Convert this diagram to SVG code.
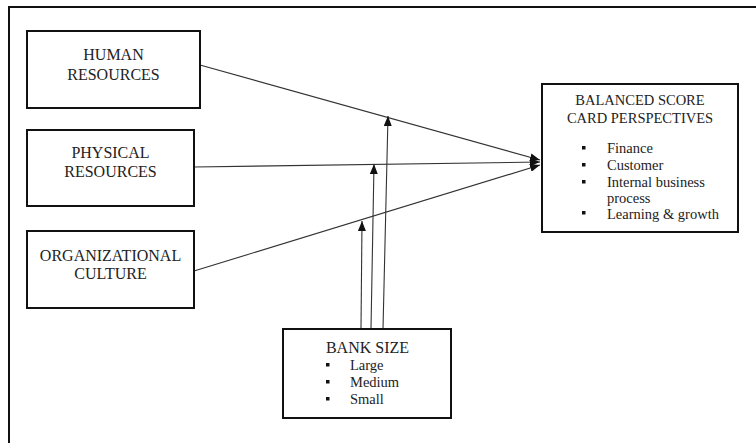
<svg xmlns="http://www.w3.org/2000/svg" width="756" height="443" viewBox="0 0 756 443">
<style>
.box{fill:#fff;stroke:#111;stroke-width:2}
.t{font-family:"Liberation Serif","Times New Roman",serif;fill:#222;font-size:16px}
.tc{text-anchor:middle}
.s{font-size:14.5px}
.c{stroke:#333;stroke-width:1.1;fill:none}
</style>
<defs>
<marker id="ah" markerUnits="userSpaceOnUse" markerWidth="10" markerHeight="8" refX="10" refY="4" orient="auto">
<path d="M0,0 L10,4 L0,8 z" fill="#111"/>
</marker>
</defs>
<rect width="756" height="443" fill="#fff"/>
<path d="M9,443 V7 H756" fill="none" stroke="#111" stroke-width="2"/>
<g id="connectors">
<line class="c" x1="200" y1="65" x2="540" y2="160" marker-end="url(#ah)"/>
<line class="c" x1="194" y1="167" x2="540" y2="162" marker-end="url(#ah)"/>
<line class="c" x1="194" y1="271" x2="540" y2="165" marker-end="url(#ah)"/>
<line class="c" x1="361" y1="329" x2="362" y2="221" marker-end="url(#ah)"/>
<line class="c" x1="371" y1="329" x2="374" y2="164" marker-end="url(#ah)"/>
<line class="c" x1="383" y1="329" x2="388" y2="116" marker-end="url(#ah)"/>
</g>
<g id="human">
<rect class="box" x="27" y="31" width="173" height="77"/>
<text class="t tc" x="113.5" y="60">HUMAN</text>
<text class="t tc" x="113.5" y="80">RESOURCES</text>
</g>
<g id="physical">
<rect class="box" x="27" y="130" width="167" height="76"/>
<text class="t tc" x="110.5" y="158">PHYSICAL</text>
<text class="t tc" x="110.5" y="177">RESOURCES</text>
</g>
<g id="culture">
<rect class="box" x="27" y="231" width="167" height="77"/>
<text class="t tc" x="110.5" y="261">ORGANIZATIONAL</text>
<text class="t tc" x="110.5" y="279">CULTURE</text>
</g>
<g id="bsc">
<rect class="box" x="542" y="84" width="196" height="148"/>
<text class="t tc" x="640" y="105" style="font-size:14.5px">BALANCED SCORE</text>
<text class="t tc" x="640" y="123" style="font-size:14.5px">CARD PERSPECTIVES</text>
<g fill="#111">
<rect x="582" y="146" width="3.5" height="3.5"/>
<rect x="582" y="163" width="3.5" height="3.5"/>
<rect x="582" y="180" width="3.5" height="3.5"/>
<rect x="582" y="211" width="3.5" height="3.5"/>
</g>
<text class="t s" x="607" y="153">Finance</text>
<text class="t s" x="607" y="170">Customer</text>
<text class="t s" x="607" y="187">Internal business</text>
<text class="t s" x="607" y="203">process</text>
<text class="t s" x="607" y="219">Learning &amp; growth</text>
</g>
<g id="banksize">
<rect class="box" x="283" y="329" width="168" height="89"/>
<text class="t tc" x="367.5" y="353">BANK SIZE</text>
<g fill="#111">
<rect x="326" y="363" width="3.5" height="3.5"/>
<rect x="326" y="380" width="3.5" height="3.5"/>
<rect x="326" y="397" width="3.5" height="3.5"/>
</g>
<text class="t s" x="350" y="370">Large</text>
<text class="t s" x="350" y="387">Medium</text>
<text class="t s" x="350" y="404">Small</text>
</g>
</svg>
